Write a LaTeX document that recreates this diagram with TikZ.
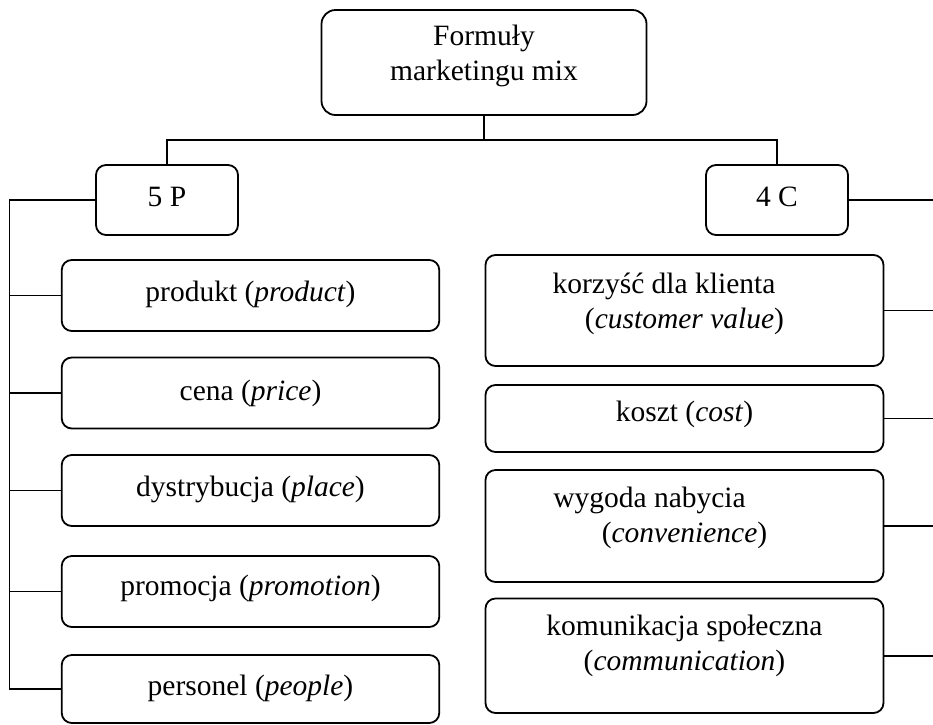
\documentclass[tikz,border=0pt]{standalone}
\usepackage{fontspec}
\setmainfont{Liberation Serif}
\begin{document}
\begin{tikzpicture}[x=1pt,y=-1pt,
  box/.style={draw, line width=1.8pt, rounded corners=10pt, inner sep=0pt},
  txt/.style={font=\fontsize{29.5}{35}\selectfont, align=center, inner sep=0pt},
  link/.style={line width=1.8pt}]
\useasboundingbox (0,0) rectangle (933,724);

% root
\node[box, rounded corners=14pt, minimum width=325pt, minimum height=105pt,
  label={[txt,yshift=7pt]center:Formuły\\marketingu mix}] (mix) at (484,62.5) {};

% the two formulas
\node[box, minimum width=142pt, minimum height=70pt,
  label={[txt,yshift=3pt]center:5 P}] (p5) at (167,200) {};
\node[box, minimum width=142pt, minimum height=70pt,
  label={[txt,yshift=3pt]center:4 C}] (c4) at (777,200) {};

% 5 P elements
\node[box, minimum width=377.5pt, minimum height=71pt,
  label={[txt,yshift=1pt]center:produkt (\textit{product})}] (prod) at (250.5,295.5) {};
\node[box, minimum width=377.5pt, minimum height=71pt,
  label={[txt]center:cena (\textit{price})}] (price) at (250.5,393) {};
\node[box, minimum width=377.5pt, minimum height=71pt,
  label={[txt,yshift=1pt]center:dystrybucja (\textit{place})}] (place) at (250.5,490.5) {};
\node[box, minimum width=377.5pt, minimum height=71pt,
  label={[txt,yshift=3pt]center:promocja (\textit{promotion})}] (promo) at (250.5,591.5) {};
\node[box, minimum width=377.5pt, minimum height=68pt,
  label={[txt,yshift=1pt]center:personel (\textit{people})}] (people) at (250.5,689) {};

% 4 C elements
\node[box, minimum width=398pt, minimum height=111pt,
  label={[txt,yshift=7pt]center:korzyść dla klienta\hspace*{41pt}\\(\textit{customer value})}] (value) at (684.5,310.5) {};
\node[box, minimum width=398pt, minimum height=67pt,
  label={[txt,yshift=4pt]center:koszt (\textit{cost})}] (cost) at (684.5,418.5) {};
\node[box, minimum width=398pt, minimum height=112pt,
  label={[txt,yshift=8pt]center:wygoda nabycia\hspace*{70pt}\\(\textit{convenience})}] (conv) at (684.5,526) {};
\node[box, minimum width=398pt, minimum height=114.5pt,
  label={[txt,yshift=10pt]center:komunikacja społeczna\\(\textit{communication})}] (comm) at (684.5,655.75) {};

% tree connectors
\coordinate (bar) at (484,140);
\coordinate (spL) at (9.5,0);
\coordinate (spR) at (936,0);

\draw[link] (mix.south) -- (bar);
\draw[link] (p5.north) |- (bar) -| (c4.north);

\draw[link] (p5.west) -- (p5.west -| spL) |- (people.west);
\foreach \n in {prod,price,place,promo}
  \draw[link] (\n.west) -- (\n.west -| spL);

\foreach \n in {c4,value,cost,conv,comm}
  \draw[link] (\n.east) -- (\n.east -| spR);
\end{tikzpicture}
\end{document}
